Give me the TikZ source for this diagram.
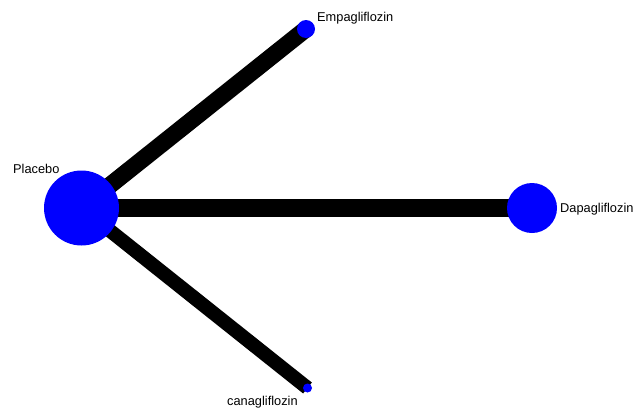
\documentclass[tikz,border=0pt]{standalone}
\usepackage{fontspec}
\setmainfont{Liberation Sans}
\begin{document}
\begin{tikzpicture}[x=1pt,y=-1pt,
  trt/.style={circle,fill=blue,inner sep=0pt},
  edge/.style={line cap=butt,draw=black},
  lbl/.style={font=\fontsize{12.8}{14}\selectfont,inner sep=0pt}]
\useasboundingbox (0,0) rectangle (637,407);
\coordinate (P) at (81.5,208);
\coordinate (D) at (532,208);
\coordinate (E) at (306,29);
\coordinate (C) at (307.5,388);
\draw[edge,line width=18pt] (P) -- (D);
\draw[edge,line width=17pt] (P) -- (E);
\draw[edge,line width=14pt] (P) -- (C);
\node[trt,minimum size=75pt] (p) at (P) {};
\node[trt,minimum size=50pt] (d) at (D) {};
\node[trt,minimum size=18pt] (e) at (E) {};
\node[trt,minimum size=9pt] (c) at (C) {};
\node[lbl,anchor=west] (pl) at (13,169) {Placebo};
\node[lbl,anchor=west] (dl) at (560,209) {Dapagliflozin};
\node[lbl,anchor=west] (el) at (317,18) {Empagliflozin};
\node[lbl,anchor=west] (cl) at (227,402) {canagliflozin};
\end{tikzpicture}
\end{document}
